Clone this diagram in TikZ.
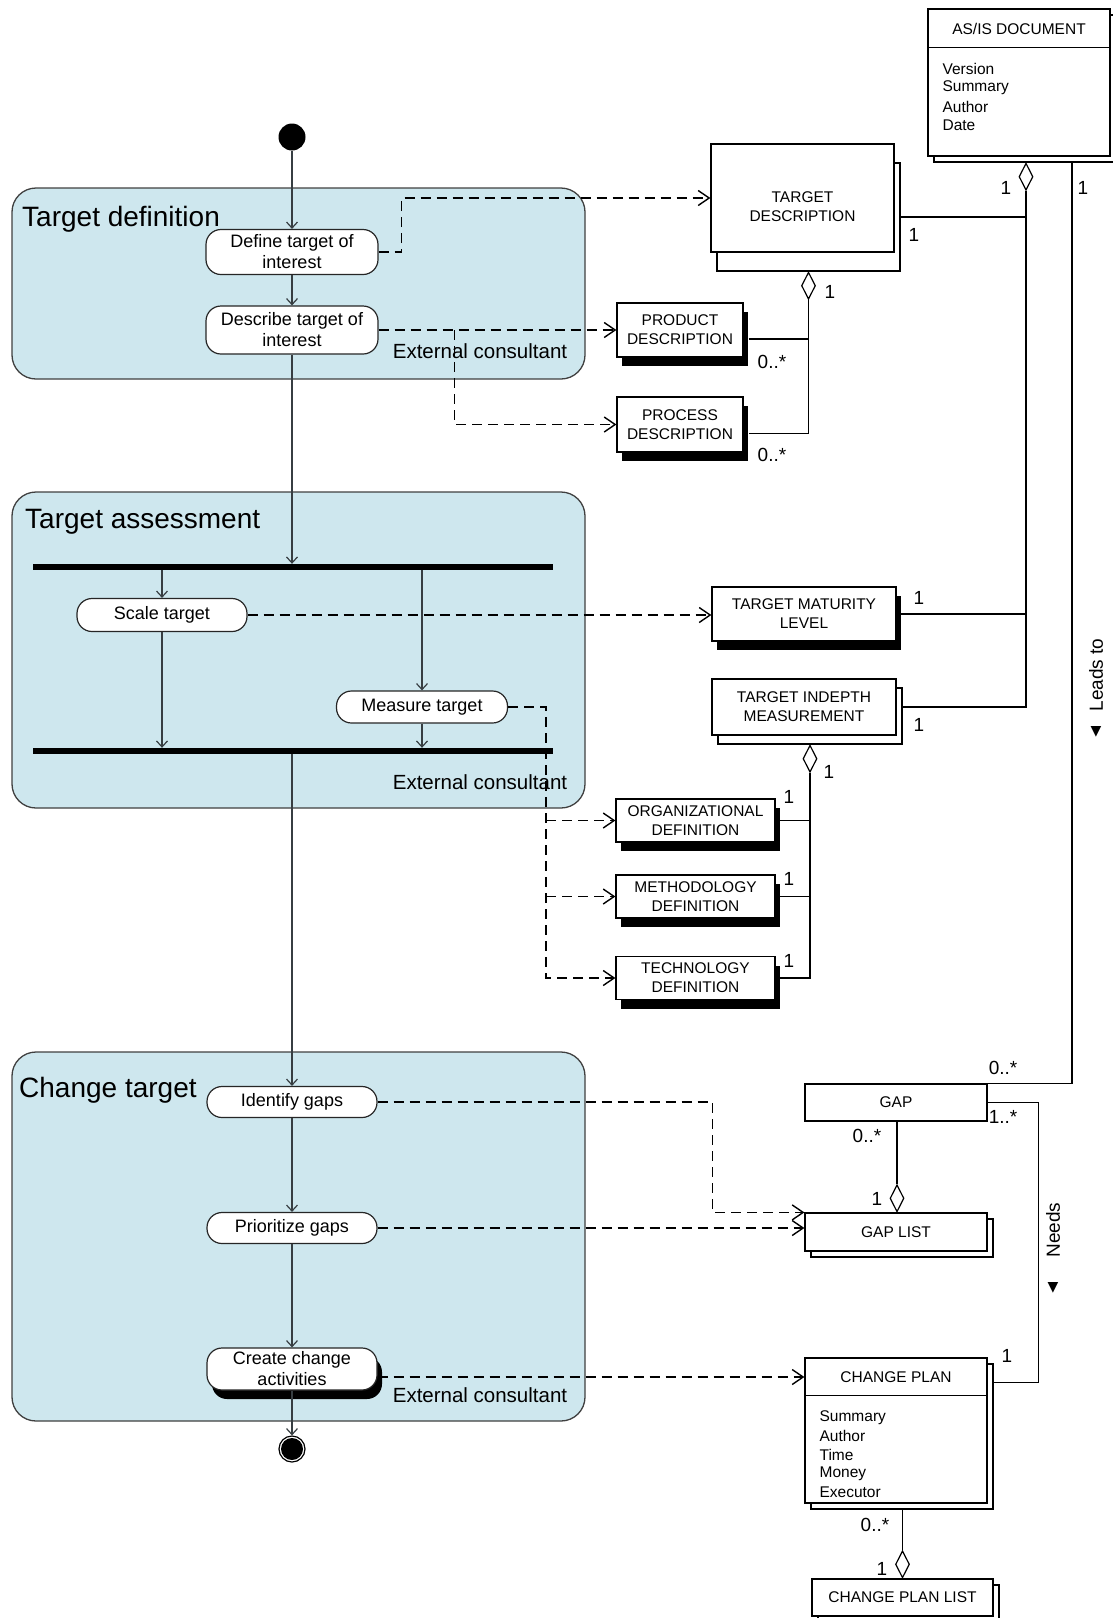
\documentclass[tikz,border=0pt]{standalone}
\usepackage{fontspec}
\setmainfont{Liberation Sans}
\newfontfamily\symfont{DejaVu Sans}
\usepackage{tikz}
\usetikzlibrary{calc,shapes,arrows.meta,shadows}
\definecolor{lanefill}{RGB}{206,231,238}
\definecolor{flowgray}{RGB}{55,62,66}

\begin{document}
\begin{tikzpicture}[x=1pt,y=-1pt,
    swim/.style={draw=black!75, fill=lanefill, line width=1.3pt, rounded corners=24pt},
    lanetitle/.style={anchor=west, inner sep=0pt, font=\fontsize{28}{30}\selectfont},
    actor/.style={inner sep=0pt, font=\fontsize{20.5}{24}\selectfont},
    act/.style={draw=black!85, fill=white, line width=1.2pt, rounded corners=15pt, minimum width=172pt, inner sep=0pt, align=center, font=\fontsize{18}{21}\selectfont},
    bar/.style={fill=black, minimum width=520pt, minimum height=6pt, inner sep=0pt},
    clstext/.style={inner sep=0pt, align=center, font=\fontsize{15.5}{19}\selectfont},
    cls/.style={clstext, draw, fill=white, line width=1.2pt},
    shad/.style={drop shadow={shadow xshift=5pt, shadow yshift=-9pt, fill=black, opacity=1}},
    stack/.style={copy shadow={shadow xshift=6pt, shadow yshift=#1}},
    stack/.default=-6pt,
    attr/.style={anchor=west, inner sep=0pt, font=\fontsize{15.5}{18}\selectfont},
    agg/.style={diamond, draw, fill=white, line width=1.2pt, minimum width=14pt, minimum height=27pt, inner sep=0pt},
    flow/.style={draw=flowgray, line width=1.2pt, -{Straight Barb[length=6pt,width=11pt]}},
    dep/.style={line width=1.4pt, dash pattern=on 10pt off 6pt, -{Straight Barb[length=11pt,width=15pt]}},
    assoc/.style={line width=1.2pt},
    mult/.style={inner sep=0pt, font=\fontsize{19}{19}\selectfont},
    role/.style={inner sep=0pt, rotate=90, font=\fontsize{19}{19}\selectfont},
    tri/.style={inner sep=0pt, font=\symfont\fontsize{14}{14}\selectfont}]
    \useasboundingbox (0,0) rectangle (1112,1618);

    \draw[swim] (12,188) rectangle (585,379);
    \draw[swim] (12,492) rectangle (585,808);
    \draw[swim] (12,1052) rectangle (585,1421);
    \node[lanetitle] (tdef) at (22,219) {Target definition};
    \node[lanetitle] (tass) at (25,522) {Target assessment};
    \node[lanetitle] (tchg) at (19,1090) {Change target};
    \node[actor] (ext1) at (480,351) {External consultant};
    \node[actor] (ext2) at (480,782) {External consultant};
    \node[actor] (ext3) at (480,1395) {External consultant};

    \node[circle, fill=black, minimum size=27pt, inner sep=0pt] (start) at (292,137) {};
    \node[act, minimum height=45pt] (def) at (292,252) {Define target of\\interest};
    \node[act, minimum height=48pt] (desc) at (292,330) {Describe target of\\interest};
    \node[bar] (fork) at (293,567) {};
    \node[act, minimum width=170pt, minimum height=33pt] (scale) at (162,615) {Scale target};
    \node[act, minimum width=171pt, minimum height=32pt] (meas) at (422,707) {Measure target};
    \node[bar] (join) at (293,751) {};
    \node[act, minimum width=170pt, minimum height=31pt] (ident) at (292,1102) {Identify gaps};
    \node[act, minimum width=170pt, minimum height=31pt] (prio) at (292,1228) {Prioritize gaps};
    \node[act, shad, minimum width=170pt, minimum height=42pt] (create) at (292,1369) {Create change\\activities};
    \node[circle, draw, line width=1.2pt, minimum size=26pt, inner sep=0pt,
        path picture={\fill (path picture bounding box.center) circle (11pt);}] (stop) at (292,1449) {};

    \draw[flow] (start) -- (def);
    \draw[flow] (def) -- (desc);
    \draw[flow] (desc) -- (desc |- fork.north);
    \draw[flow] (scale |- fork.south) -- (scale);
    \draw[flow] (meas |- fork.south) -- (meas);
    \draw[flow] (scale) -- (scale |- join.north);
    \draw[flow] (meas) -- (meas |- join.north);
    \draw[flow] (ident |- join.south) -- (ident);
    \draw[flow] (ident) -- (prio);
    \draw[flow] (prio) -- (create);
    \draw[flow] (create) -- (stop);

    \node[cls, stack, minimum width=182pt, minimum height=147pt] (asis) at (1019,82.5) {};
    \draw[assoc] ([yshift=-39pt]asis.north west) -- ([yshift=-39pt]asis.north east);
    \node[clstext] (asisname) at ([yshift=-21pt]asis.north) {AS/IS DOCUMENT};
    \foreach \a [count=\i] in {Version,Summary,Author,Date}
        \node[attr] (asis\i) at ($(asis.north west)+(15,42+18.7*\i)$) {\a};

    \node[cls, stack=-19pt, minimum width=183pt, minimum height=108pt] (td) at (802.5,198) {};
    \node[clstext] (tdname) at ([yshift=-9pt]td.center) {TARGET\\DESCRIPTION};
    \node[cls, shad, minimum width=126pt, minimum height=54pt] (prod) at (680,330) {PRODUCT\\DESCRIPTION};
    \node[cls, shad, minimum width=126pt, minimum height=55pt] (proc) at (680,424.5) {PROCESS\\DESCRIPTION};
    \node[cls, shad, minimum width=184pt, minimum height=54pt] (tml) at (804,614) {TARGET MATURITY\\LEVEL};
    \node[cls, stack=-9pt, minimum width=184pt, minimum height=56pt] (tim) at (804,707) {TARGET INDEPTH\\MEASUREMENT};
    \node[cls, shad, minimum width=159pt, minimum height=43pt] (org) at (695.5,820.5) {ORGANIZATIONAL\\DEFINITION};
    \node[cls, shad, minimum width=159pt, minimum height=43pt] (meth) at (695.5,896.5) {METHODOLOGY\\DEFINITION};
    \node[cls, shad, minimum width=159pt, minimum height=43pt] (tech) at (695.5,978) {TECHNOLOGY\\DEFINITION};
    \node[cls, minimum width=182pt, minimum height=37pt] (gap) at (896,1102.5) {GAP};
    \node[cls, stack, minimum width=182pt, minimum height=38pt] (gaplist) at (896,1232) {GAP LIST};
    \node[cls, stack, minimum width=182pt, minimum height=145pt] (cp) at (896,1430.5) {};
    \draw[assoc] ([yshift=-38pt]cp.north west) -- ([yshift=-38pt]cp.north east);
    \node[clstext] (cpname) at ([yshift=-20pt]cp.north) {CHANGE PLAN};
    \foreach \a [count=\i] in {Summary,Author,Time,Money,Executor}
        \node[attr] (cp\i) at ($(cp.north west)+(15,41.5+18.7*\i)$) {\a};
    \node[cls, stack, minimum width=181pt, minimum height=37pt] (cpl) at (902.5,1597.5) {CHANGE PLAN LIST};

    \node[agg, anchor=north] (dasis) at ([xshift=7pt,yshift=-6pt]asis.south) {};
    \node[agg, anchor=north] (dtd) at ([xshift=6pt,yshift=-19pt]td.south) {};
    \node[agg, anchor=north] (dtim) at ([xshift=6pt,yshift=-9pt]tim.south) {};
    \node[agg, anchor=south] (dgap) at ([xshift=1pt]gaplist.north) {};
    \node[agg, anchor=south] (dcp) at (cpl.north) {};

    \draw[assoc] (dasis.south) |- ([xshift=6pt]tim.east);
    \draw[assoc] ([xshift=6pt,yshift=-19pt]td.east) -| (dasis.south);
    \draw[assoc] (tml.east) -| (dasis.south);
    \draw[assoc] ([xshift=53pt,yshift=-6pt]asis.south) |- (gap.north east);
    \draw[assoc] (gap.east) -- ++(51,0) |- ([xshift=6pt,yshift=-25pt]cp.north east);
    \draw[assoc] (dgap.north |- gap.south) -- (dgap.north);
    \draw[assoc] ([xshift=6.5pt,yshift=-6pt]cp.south) -- (dcp.north);
    \draw[assoc] (dtd.south) |- ([xshift=5pt,yshift=-9pt]proc.east);
    \draw[assoc] ([xshift=5pt,yshift=-9pt]prod.east) -| (dtd.south);
    \draw[assoc] (dtim.south) |- (tech.east);
    \draw[assoc] (org.east) -| (dtim.south);
    \draw[assoc] (meth.east) -| (dtim.south);

    \node[mult] at (1006,188) {1};
    \node[mult] at (1083,188) {1};
    \node[mult] at (914,235) {1};
    \node[mult] at (830,292) {1};
    \node[mult] at (772,362) {0..*};
    \node[mult] at (772,455) {0..*};
    \node[mult] at (919,598) {1};
    \node[mult] at (919,725) {1};
    \node[mult] at (829,772) {1};
    \node[mult] at (789,797) {1};
    \node[mult] at (789,879) {1};
    \node[mult] at (789,961) {1};
    \node[mult] at (1003,1068) {0..*};
    \node[mult] at (1003,1117) {1..*};
    \node[mult] at (867,1136) {0..*};
    \node[mult] at (877,1199) {1};
    \node[mult] at (1007,1356) {1};
    \node[mult] at (875,1525) {0..*};
    \node[mult] at (882,1569) {1};

    \node[role] (leads) at (1096,675) {Leads to};
    \node[tri] (leadsdir) at (1096,732) {▼};
    \node[role] (needs) at (1053,1230) {Needs};
    \node[tri] (needsdir) at (1053,1288) {▼};

    \draw[dep] (def.east) -- ++(23,0) |- (td.west);
    \draw[dep] (desc.east) -- (prod.west);
    \draw[dep] ([xshift=76pt]desc.east) |- (proc.west);
    \draw[dep] (scale.east) -- (scale.east -| tml.west);
    \coordinate (mbus) at ([xshift=38pt]meas.east);
    \draw[dep] (meas.east) -- (mbus) |- (tech.west);
    \draw[dep] (mbus |- org.west) -- (org.west);
    \draw[dep] (mbus |- meth.west) -- (meth.west);
    \draw[dep] (ident.east) -| ([xshift=-92pt]gaplist.north west) -- (gaplist.north west);
    \draw[dep] (prio.east) -- (prio.east -| gaplist.west);
    \draw[dep] ([yshift=-8pt]create.east) -- ([yshift=-8pt]create.east -| cp.west);
\end{tikzpicture}
\end{document}
